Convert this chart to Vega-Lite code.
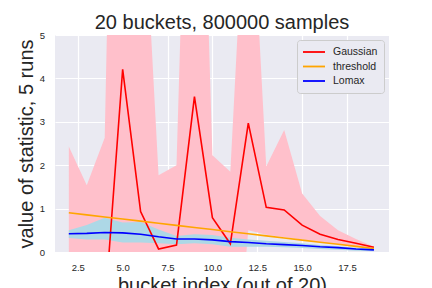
{
  "$schema": "https://vega.github.io/schema/vega-lite/v6.json",
  "width": 334,
  "height": 217,
  "autosize": {"type": "none"},
  "padding": {"left": 55, "top": 35, "right": 43, "bottom": 36},
  "background": "white",
  "config": {
    "font": "Liberation Sans",
    "view": {"fill": "#eaeaf2", "stroke": null},
    "axis": {
      "grid": true, "gridColor": "white", "gridWidth": 1.2,
      "domain": false, "ticks": false,
      "labelColor": "#262626", "titleColor": "#262626",
      "labelFont": "Liberation Sans", "titleFont": "Liberation Sans",
      "labelFontSize": 9.5, "titleFontSize": 20, "titleFontWeight": "normal"
    }
  },
  "title": {
    "text": "20 buckets, 800000 samples",
    "fontSize": 20, "fontWeight": "normal", "font": "Liberation Sans",
    "color": "#262626", "anchor": "middle", "baseline": "alphabetic", "offset": -19
  },
  "datasets": {
    "gauss_band": [
      {"x": 2, "lo": -5, "hi": 2.43},
      {"x": 3, "lo": -5, "hi": 1.54},
      {"x": 4, "lo": -5, "hi": 2.63},
      {"x": 5, "lo": -5, "hi": 22.4},
      {"x": 6, "lo": -5, "hi": 9.55},
      {"x": 7, "lo": -5, "hi": 1.77},
      {"x": 8, "lo": -5, "hi": 2.0},
      {"x": 9, "lo": -5, "hi": 16},
      {"x": 10, "lo": -5, "hi": 2.23},
      {"x": 11, "lo": -4.3, "hi": 1.85},
      {"x": 12, "lo": 0.5, "hi": 9.8},
      {"x": 13, "lo": 0.4, "hi": 1.97},
      {"x": 14, "lo": 0.34, "hi": 2.81},
      {"x": 15, "lo": 0.29, "hi": 1.35},
      {"x": 16, "lo": 0.23, "hi": 0.83},
      {"x": 17, "lo": 0.18, "hi": 0.5},
      {"x": 18, "lo": 0.13, "hi": 0.3},
      {"x": 19, "lo": 0.08, "hi": 0.12}
    ],
    "lomax_band": [
      {"x": 2, "lo": 0.32, "hi": 0.5},
      {"x": 3, "lo": 0.29, "hi": 0.62},
      {"x": 4, "lo": 0.29, "hi": 0.79},
      {"x": 5, "lo": 0.22, "hi": 0.68},
      {"x": 6, "lo": 0.22, "hi": 0.69},
      {"x": 7, "lo": 0.2, "hi": 0.52},
      {"x": 8, "lo": 0.18, "hi": 0.37},
      {"x": 9, "lo": 0.2, "hi": 0.41},
      {"x": 10, "lo": 0.18, "hi": 0.39},
      {"x": 11, "lo": 0.12, "hi": 0.33},
      {"x": 12, "lo": 0.12, "hi": 0.29},
      {"x": 13, "lo": 0.12, "hi": 0.26},
      {"x": 14, "lo": 0.11, "hi": 0.23},
      {"x": 15, "lo": 0.09, "hi": 0.2},
      {"x": 16, "lo": 0.07, "hi": 0.16},
      {"x": 17, "lo": 0.05, "hi": 0.13},
      {"x": 18, "lo": 0.03, "hi": 0.1},
      {"x": 19, "lo": 0.02, "hi": 0.07}
    ],
    "lines": [
      {"x": 2, "series": "Gaussian", "v": -2.5},
      {"x": 3, "series": "Gaussian", "v": -3.0},
      {"x": 4, "series": "Gaussian", "v": -1.37},
      {"x": 5, "series": "Gaussian", "v": 4.21},
      {"x": 6, "series": "Gaussian", "v": 0.93},
      {"x": 7, "series": "Gaussian", "v": 0.07},
      {"x": 8, "series": "Gaussian", "v": 0.16},
      {"x": 9, "series": "Gaussian", "v": 3.58},
      {"x": 10, "series": "Gaussian", "v": 0.79},
      {"x": 11, "series": "Gaussian", "v": 0.19},
      {"x": 12, "series": "Gaussian", "v": 2.97},
      {"x": 13, "series": "Gaussian", "v": 1.03},
      {"x": 14, "series": "Gaussian", "v": 0.97},
      {"x": 15, "series": "Gaussian", "v": 0.62},
      {"x": 16, "series": "Gaussian", "v": 0.41},
      {"x": 17, "series": "Gaussian", "v": 0.29},
      {"x": 18, "series": "Gaussian", "v": 0.2},
      {"x": 19, "series": "Gaussian", "v": 0.11},
      {"x": 2, "series": "threshold", "v": 0.905},
      {"x": 3, "series": "threshold", "v": 0.856},
      {"x": 4, "series": "threshold", "v": 0.808},
      {"x": 5, "series": "threshold", "v": 0.759},
      {"x": 6, "series": "threshold", "v": 0.711},
      {"x": 7, "series": "threshold", "v": 0.662},
      {"x": 8, "series": "threshold", "v": 0.614},
      {"x": 9, "series": "threshold", "v": 0.565},
      {"x": 10, "series": "threshold", "v": 0.517},
      {"x": 11, "series": "threshold", "v": 0.468},
      {"x": 12, "series": "threshold", "v": 0.42},
      {"x": 13, "series": "threshold", "v": 0.371},
      {"x": 14, "series": "threshold", "v": 0.323},
      {"x": 15, "series": "threshold", "v": 0.274},
      {"x": 16, "series": "threshold", "v": 0.226},
      {"x": 17, "series": "threshold", "v": 0.177},
      {"x": 18, "series": "threshold", "v": 0.129},
      {"x": 19, "series": "threshold", "v": 0.08},
      {"x": 2, "series": "Lomax", "v": 0.42},
      {"x": 3, "series": "Lomax", "v": 0.43},
      {"x": 4, "series": "Lomax", "v": 0.45},
      {"x": 5, "series": "Lomax", "v": 0.44},
      {"x": 6, "series": "Lomax", "v": 0.41},
      {"x": 7, "series": "Lomax", "v": 0.35},
      {"x": 8, "series": "Lomax", "v": 0.3},
      {"x": 9, "series": "Lomax", "v": 0.3},
      {"x": 10, "series": "Lomax", "v": 0.28},
      {"x": 11, "series": "Lomax", "v": 0.24},
      {"x": 12, "series": "Lomax", "v": 0.22},
      {"x": 13, "series": "Lomax", "v": 0.19},
      {"x": 14, "series": "Lomax", "v": 0.17},
      {"x": 15, "series": "Lomax", "v": 0.15},
      {"x": 16, "series": "Lomax", "v": 0.12},
      {"x": 17, "series": "Lomax", "v": 0.1},
      {"x": 18, "series": "Lomax", "v": 0.07},
      {"x": 19, "series": "Lomax", "v": 0.05}
    ]
  },
  "layer": [
    {
      "data": {"name": "gauss_band"},
      "mark": {"type": "area", "color": "#ffc0cb", "opacity": 1, "clip": true},
      "encoding": {
        "x": {"field": "x", "type": "quantitative",
              "scale": {"domain": [1.23, 19.84], "nice": false, "zero": false},
              "axis": {"title": "bucket index (out of 20)", "values": [2.5, 5, 7.5, 10, 12.5, 15, 17.5], "format": ".1f", "labelPadding": 10, "titleBaseline": "alphabetic", "titleY": 39}},
        "y": {"field": "hi", "type": "quantitative",
              "scale": {"domain": [0, 5], "nice": false, "zero": false},
              "axis": {"title": "value of statistic, 5 runs", "values": [0, 1, 2, 3, 4, 5], "format": "d", "labelPadding": 10.5, "titleBaseline": "alphabetic", "titleX": -23}},
        "y2": {"field": "lo"}
      }
    },
    {
      "data": {"name": "lomax_band"},
      "mark": {"type": "area", "color": "#add8e6", "opacity": 1, "clip": true},
      "encoding": {
        "x": {"field": "x", "type": "quantitative"},
        "y": {"field": "hi", "type": "quantitative"},
        "y2": {"field": "lo"}
      }
    },
    {
      "data": {"name": "lines"},
      "mark": {"type": "line", "strokeWidth": 1.6, "clip": true},
      "encoding": {
        "x": {"field": "x", "type": "quantitative"},
        "y": {"field": "v", "type": "quantitative"},
        "color": {
          "field": "series", "type": "nominal",
          "scale": {"domain": ["Gaussian", "threshold", "Lomax"], "range": ["#ff0000", "#ffa500", "#0000ff"]},
          "legend": {
            "orient": "none", "legendX": 242, "legendY": 5, "title": null,
            "symbolType": "M-1,0H3.4", "symbolSize": 100, "symbolStrokeWidth": 1.8, "symbolOffset": -1,
            "labelFontSize": 10.5, "labelColor": "#262626", "labelFont": "Liberation Sans",
            "labelOffset": 19, "rowPadding": 2.5,
            "fillColor": "#eaeaf2", "strokeColor": "#cccccc", "cornerRadius": 3, "padding": 6
          }
        }
      }
    }
  ]
}
